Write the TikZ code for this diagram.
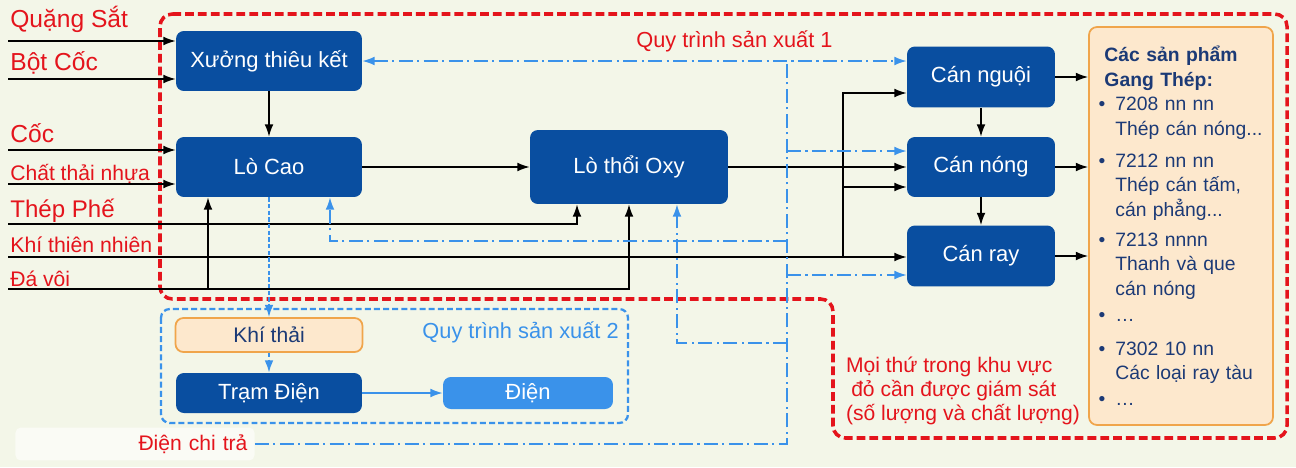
\documentclass[tikz,border=0pt]{standalone}
\usepackage{fontspec}
\setmainfont{Liberation Sans}
\usetikzlibrary{arrows.meta}

\definecolor{nen}{RGB}{243,246,232}
\definecolor{xanhdam}{RGB}{9,78,160}
\definecolor{xanhnhat}{RGB}{58,146,234}
\definecolor{doden}{RGB}{228,20,28}
\definecolor{camvien}{RGB}{240,165,75}
\definecolor{camnen}{RGB}{253,232,205}
\definecolor{chuxanh}{RGB}{28,58,118}

\newcommand{\gach}{\makebox[9.6pt][l]{\textbullet}}
\newcommand{\lui}{\hspace*{9.6pt}}

\tikzset{
  hop/.style={fill=xanhdam, rounded corners=4.5pt, text=white, minimum width=3.72cm,
    minimum height=1.2cm, inner sep=2pt, font=\fontsize{12.5}{15}\selectfont},
  camhop/.style={draw=camvien, line width=1pt, fill=camnen, rounded corners=4.5pt, text=chuxanh},
  nhan/.style={text=doden, anchor=base west, inner sep=0pt},
  duong/.style={line width=0.8pt, black},
  mui/.style={-{Latex[length=7pt,width=5pt]}},
  tra/.style={xanhnhat, line width=0.9pt, dash pattern=on 8pt off 2.5pt on 1.2pt off 2.5pt},
  nho/.style={xanhnhat, line width=1pt, dash pattern=on 2.4pt off 1.4pt},
  vung/.style={doden, line width=2pt, dash pattern=on 5pt off 2.3pt, rounded corners=7pt},
  khung/.style={xanhnhat, line width=1.3pt, dash pattern=on 3.4pt off 1.8pt, rounded corners=5pt}
}

\begin{document}
\begin{tikzpicture}[x=0.02cm, y=-0.02cm]
\path[fill=nen] (0,0) rectangle (1296,467);
\useasboundingbox (0,0) rectangle (1296,467);

% vung giam sat
\draw[vung] (160,14) -- (1287,14) -- (1287,438) -- (833,438) -- (833,299) -- (160,299) -- cycle;
\draw[khung] (161,309) rectangle (628,423);

% cac xuong
\node[hop] (xuong) at (269,61) {Xưởng thiêu kết};
\node[hop] (locao) at (269,167) {Lò Cao};
\node[hop, minimum width=3.96cm, minimum height=1.48cm] (oxy) at (629,167) {Lò thổi Oxy};
\node[hop, minimum width=2.96cm, minimum height=1.22cm] (nguoi) at (981,77) {Cán nguội};
\node[hop, minimum width=2.96cm] (nong) at (981,167) {Cán nóng};
\node[hop, minimum width=2.96cm, minimum height=1.22cm] (ray) at (981,256) {Cán ray};
\node[camhop, text width=3.3cm, minimum width=3.68cm, minimum height=7.96cm, align=left,
  font=\fontsize{11}{14}\selectfont] (sanpham) at (1181,226) {%
  \hspace*{3.4pt}{\bfseries Các sản phẩm}\\
  \hspace*{3.4pt}{\bfseries Gang Thép:}\\
  \gach 7208 nn nn\\ \lui Thép cán nóng...\\[4pt]
  \gach 7212 nn nn\\ \lui Thép cán tấm,\\ \lui cán phẳng...\\[3pt]
  \gach 7213 nnnn\\ \lui Thanh và que\\ \lui cán nóng\\[1pt]
  \gach …\\[5pt]
  \gach 7302 10 nn\\ \lui Các loại ray tàu\\[1pt]
  \gach …};

% quy trinh 2
\node[camhop, minimum width=3.74cm, minimum height=0.68cm, font=\fontsize{12}{14}\selectfont] (khithai) at (269,335) {Khí thải};
\node[hop, minimum height=0.8cm] (tram) at (269,393) {Trạm Điện};
\node[hop, fill=xanhnhat, minimum width=3.4cm, minimum height=0.64cm] (dien) at (528,393) {Điện};

% chu
\node[nhan, font=\fontsize{12.4}{15}\selectfont] (qt1) at (636,47) {Quy trình sản xuất 1};
\node[nhan, text=xanhnhat, anchor=base east, font=\fontsize{12.4}{15}\selectfont] (qt2) at (619,338) {Quy trình sản xuất 2};
\node[text=doden, align=left, inner sep=0pt, font=\fontsize{12}{13.8}\selectfont] (giamsat) at (963,391)
  {Mọi thứ trong khu vực\\\hspace*{3pt}đỏ cần được giám sát\\(số lượng và chất lượng)};
\node[fill=white!55!nen, rounded corners=3pt, text=doden, text width=4.5cm, align=right,
  inner sep=4pt, font=\fontsize{12}{14}\selectfont] (chitra) at (135,444) {Điện chi trả};

% dau vao
\node[nhan, font=\fontsize{14}{16}\selectfont] (lquang) at (10,27) {Quặng Sắt};
\node[nhan, font=\fontsize{14}{16}\selectfont] (lbot) at (10,70) {Bột Cốc};
\node[nhan, font=\fontsize{14}{16}\selectfont] (lcoc) at (10,142) {Cốc};
\node[nhan, font=\fontsize{12}{14}\selectfont] (lnhua) at (10,180) {Chất thải nhựa};
\node[nhan, font=\fontsize{13.7}{16}\selectfont] (lthep) at (10,217) {Thép Phế};
\node[nhan, font=\fontsize{12.1}{14}\selectfont] (lkhi) at (10,252) {Khí thiên nhiên};
\node[nhan, font=\fontsize{12}{14}\selectfont] (lda) at (10,286) {Đá vôi};

\coordinate (vquang) at (8,41);
\coordinate (vbot) at (8,79);
\coordinate (vcoc) at (8,150);
\coordinate (vnhua) at (8,184);
\coordinate (vthep) at (8,224);
\coordinate (vkhi) at (8,257);
\coordinate (vda) at (8,289);

\draw[duong, mui] (vquang) -- (vquang -| xuong.west);
\draw[duong, mui] (vbot) -- (vbot -| xuong.west);
\draw[duong, mui] (vcoc) -- (vcoc -| locao.west);
\draw[duong, mui] (vnhua) -- (vnhua -| locao.west);
\draw[duong, mui] (vthep) -| ([xshift=-1.04cm]oxy.south);
\draw[duong, mui] (vda) -| (oxy.south);
\coordinate (lc1) at ([xshift=-1.22cm]locao.south);
\draw[duong, mui] (vda -| lc1) -- (lc1);
\draw[duong, mui] (vkhi) -- (vkhi -| ray.west);
\coordinate (re) at (843,257);
\coordinate (ng2) at ([yshift=-0.32cm]nguoi.west);
\coordinate (no2) at ([yshift=-0.4cm]nong.west);
\draw[duong, mui] (re) |- (ng2);
\draw[duong, mui] (re |- no2) -- (no2);

% luong chinh
\draw[duong, mui] (xuong) -- (locao);
\draw[duong, mui] (locao) -- (oxy);
\draw[duong, mui] (oxy) -- (nong);
\draw[duong, mui] (nguoi) -- (nong);
\draw[duong, mui] (nong) -- (ray);
\draw[duong, mui] (nguoi) -- (nguoi -| sanpham.west);
\draw[duong, mui] (nong) -- (nong -| sanpham.west);
\draw[duong, mui] (ray) -- (ray -| sanpham.west);

% dien chi tra
\coordinate (truc) at (787,62);
\coordinate (no1) at ([yshift=0.32cm]nong.west);
\coordinate (ra2) at ([yshift=-0.38cm]ray.west);
\coordinate (hoi1) at (787,241);
\coordinate (hoi2) at (787,343);
\draw[tra] (chitra.east) -| (truc);
\draw[tra, {Latex[length=7pt,width=5pt]}-{Latex[length=7pt,width=5pt]}] (xuong.east) -- (nguoi.west |- xuong.east);
\draw[tra, mui] (truc |- no1) -- (no1);
\draw[tra, mui] (truc |- ra2) -- (ra2);
\draw[tra, mui] (hoi1) -| ([xshift=1.22cm]locao.south);
\draw[tra, mui] (hoi2) -| ([xshift=0.96cm]oxy.south);

% quy trinh 2
\draw[nho, mui] (locao) -- (khithai);
\draw[nho, mui] (khithai) -- (tram);
\draw[xanhnhat, line width=0.9pt, mui] (tram) -- (dien);
\end{tikzpicture}
\end{document}
